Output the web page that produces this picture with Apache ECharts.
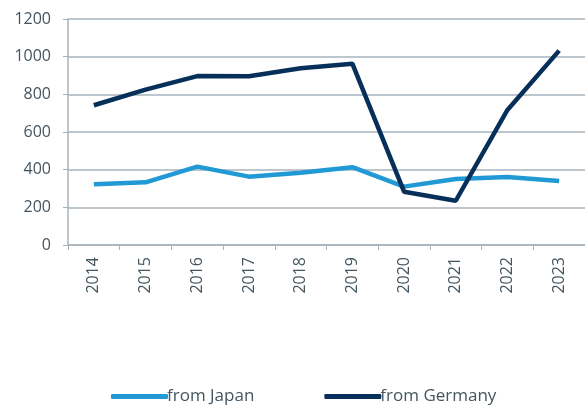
<!DOCTYPE html>
<html>
<head>
<meta charset="utf-8">
<script src="https://cdn.jsdelivr.net/npm/echarts@6/dist/echarts.min.js"></script>
<style>
  html, body { margin: 0; padding: 0; background: #fff; }
  #chart { width: 585px; height: 405px; }
</style>
</head>
<body>
<div id="chart"></div>
<script>
var years = ['2014','2015','2016','2017','2018','2019','2020','2021','2022','2023'];
var fromJapan = [322, 333, 416, 363, 384, 413, 310, 350, 361, 340];
var fromGermany = [742, 825, 897, 896, 938, 963, 283, 235, 717, 1032];

var myChart = echarts.init(document.getElementById('chart'));

var axisColor = '#a7b3bb';
var textColor = '#44555f';
var fontName = '"Open Sans", "Noto Sans", sans-serif';

var option = {
    animation: false,
    textStyle: { fontFamily: fontName },
    grid: { left: 68, right: 0, top: 19, bottom: 160 },
    legend: {
        top: 383,
        left: 106,
        itemWidth: 57,
        itemHeight: 5,
        itemGap: 70,
        icon: 'roundRect',
        textStyle: { color: textColor, fontSize: 17, fontFamily: fontName, padding: [0, 0, 0, -6] },
        data: ['from Japan', 'from Germany']
    },
    xAxis: {
        type: 'category',
        data: years,
        boundaryGap: true,
        axisLine: { lineStyle: { color: axisColor, width: 1.5 } },
        axisTick: { show: true, length: 5, lineStyle: { color: axisColor } },
        axisLabel: { rotate: 90, color: textColor, fontSize: 16, margin: 12 }
    },
    yAxis: {
        type: 'value',
        min: 0,
        max: 1200,
        interval: 200,
        axisLine: { show: true, lineStyle: { color: axisColor, width: 1.5 } },
        axisTick: { show: true, length: 5, lineStyle: { color: axisColor } },
        axisLabel: { color: textColor, fontSize: 16, margin: 17, formatter: function (v) { return String(v); } },
        splitLine: { lineStyle: { color: axisColor, width: 1.5 } }
    },
    series: [{
        name: 'from Japan',
        type: 'line',
        data: fromJapan,
        symbol: 'none',
        lineStyle: { color: '#2199d5', width: 4.5 },
        itemStyle: { color: '#2199d5' }
    }, {
        name: 'from Germany',
        type: 'line',
        data: fromGermany,
        symbol: 'none',
        lineStyle: { color: '#06305a', width: 4.5 },
        itemStyle: { color: '#06305a' }
    }]
};

myChart.setOption(option);
</script>
</body>
</html>
